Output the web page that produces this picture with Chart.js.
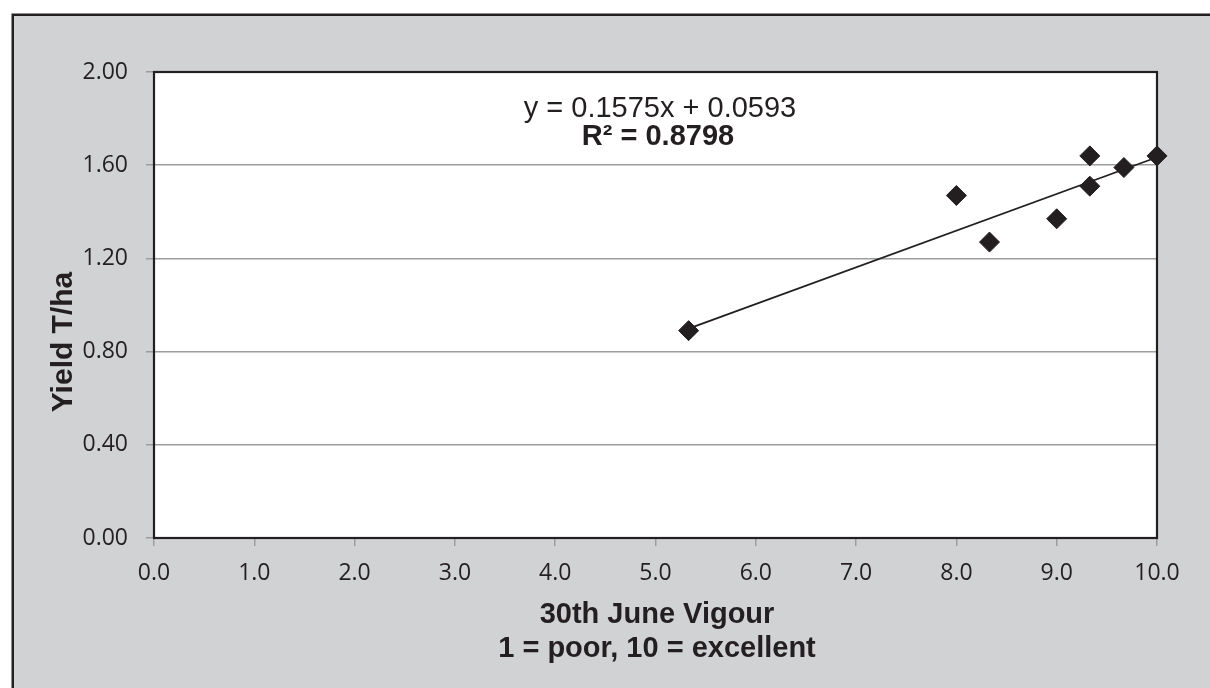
<!DOCTYPE html>
<html>
<head>
<meta charset="utf-8">
<script src="https://cdn.jsdelivr.net/npm/chart.js@4/dist/chart.umd.min.js"></script>
<style>
html,body{margin:0;padding:0;background:#fff;}
#wrap{width:1210px;height:688px;position:relative;}
</style>
</head>
<body>
<div id="wrap"><canvas id="c" width="1210" height="688"></canvas></div>
<script>
// ---- data ----
const vigour = [5.33, 8.0, 8.33, 9.0, 9.33, 9.33, 9.67, 10.0];
const yieldTha = [0.89, 1.47, 1.27, 1.37, 1.64, 1.51, 1.59, 1.64];
const trendX = [5.33, 10.0];
const trendY = [0.899, 1.634];
const equationText = 'y = 0.1575x + 0.0593';
const r2Text = 'R\u00B2 = 0.8798';
const xTitleLines = ['30th June Vigour', '1 = poor, 10 = excellent'];
const yTitleText = 'Yield T/ha';
const xMin = 0, xMax = 10, xStep = 1;
const yMin = 0, yMax = 2, yStep = 0.4;

const INK = '#231f20';
const PANEL = '#d1d2d4';
const GRID = '#9d9d9f';

const framePlugin = {
  id: 'frame',
  beforeDraw(chart) {
    const ctx = chart.ctx;
    const a = chart.chartArea;
    ctx.save();
    ctx.fillStyle = '#ffffff';
    ctx.fillRect(0, 0, chart.width, chart.height);
    ctx.fillStyle = PANEL;
    ctx.fillRect(12, 14, chart.width - 12, chart.height - 14);
    ctx.strokeStyle = INK;
    ctx.lineWidth = 2.5;
    ctx.beginPath();
    ctx.moveTo(12.75, chart.height + 2);
    ctx.lineTo(12.75, 14.75);
    ctx.lineTo(chart.width + 2, 14.75);
    ctx.stroke();
    ctx.fillStyle = '#ffffff';
    ctx.fillRect(a.left, a.top, a.right - a.left, a.bottom - a.top);
    ctx.restore();
  },
  beforeDatasetsDraw(chart) {
    const ctx = chart.ctx;
    const a = chart.chartArea;
    ctx.save();
    ctx.strokeStyle = INK;
    ctx.lineWidth = 2.2;
    ctx.strokeRect(a.left, a.top, a.right - a.left, a.bottom - a.top);
    ctx.restore();
  },
  afterDraw(chart) {
    const ctx = chart.ctx;
    ctx.save();
    ctx.fillStyle = INK;
    ctx.textAlign = 'center';
    ctx.textBaseline = 'alphabetic';
    ctx.font = '29px "Liberation Sans", Arial, sans-serif';
    ctx.fillText(equationText, 660, 117);
    ctx.font = 'bold 29px "Liberation Sans", Arial, sans-serif';
    ctx.fillText(r2Text, 658, 145);
    ctx.fillText(xTitleLines[0], 657, 623);
    ctx.fillText(xTitleLines[1], 657, 657);
    ctx.translate(72, 342);
    ctx.rotate(-Math.PI / 2);
    ctx.font = 'bold 30px "Liberation Sans", Arial, sans-serif';
    ctx.fillText(yTitleText, 0, 0);
    ctx.restore();
  }
};

const tickFont = { family: '"Open Sans", "DejaVu Sans", sans-serif', size: 23 };

new Chart(document.getElementById('c'), {
  type: 'scatter',
  data: {
    datasets: [
      {
        label: 'Yield',
        data: vigour.map((v, i) => ({ x: v, y: yieldTha[i] })),
        pointStyle: 'rectRot',
        pointRadius: 10,
        pointHoverRadius: 10,
        backgroundColor: INK,
        borderColor: INK,
        borderWidth: 1,
        showLine: false,
        clip: false
      },
      {
        label: 'Trend',
        data: trendX.map((v, i) => ({ x: v, y: trendY[i] })),
        showLine: true,
        pointRadius: 0,
        borderColor: INK,
        borderWidth: 1.8,
        fill: false,
        clip: false
      }
    ]
  },
  options: {
    responsive: false,
    animation: false,
    events: [],
    layout: { padding: { top: 72, right: 53, left: 0, bottom: 0 } },
    plugins: {
      legend: { display: false },
      tooltip: { enabled: false },
      title: { display: false }
    },
    scales: {
      x: {
        type: 'linear',
        min: xMin, max: xMax,
        afterFit(scale) { scale.height = 150; },
        ticks: {
          stepSize: xStep,
          color: INK,
          font: tickFont,
          padding: 14,
          maxRotation: 0,
          callback: v => Number(v).toFixed(1)
        },
        grid: {
          drawOnChartArea: false,
          drawTicks: true,
          tickLength: 8,
          color: GRID,
          lineWidth: 1.5
        },
        border: { display: false }
      },
      y: {
        type: 'linear',
        min: yMin, max: yMax,
        afterFit(scale) { scale.width = 154; },
        ticks: {
          stepSize: yStep,
          color: INK,
          font: tickFont,
          padding: 18,
          callback: v => Number(v).toFixed(2)
        },
        grid: {
          drawOnChartArea: true,
          drawTicks: true,
          tickLength: 8,
          color: GRID,
          lineWidth: 1.5
        },
        border: { display: false }
      }
    }
  },
  plugins: [framePlugin]
});
</script>
</body>
</html>
